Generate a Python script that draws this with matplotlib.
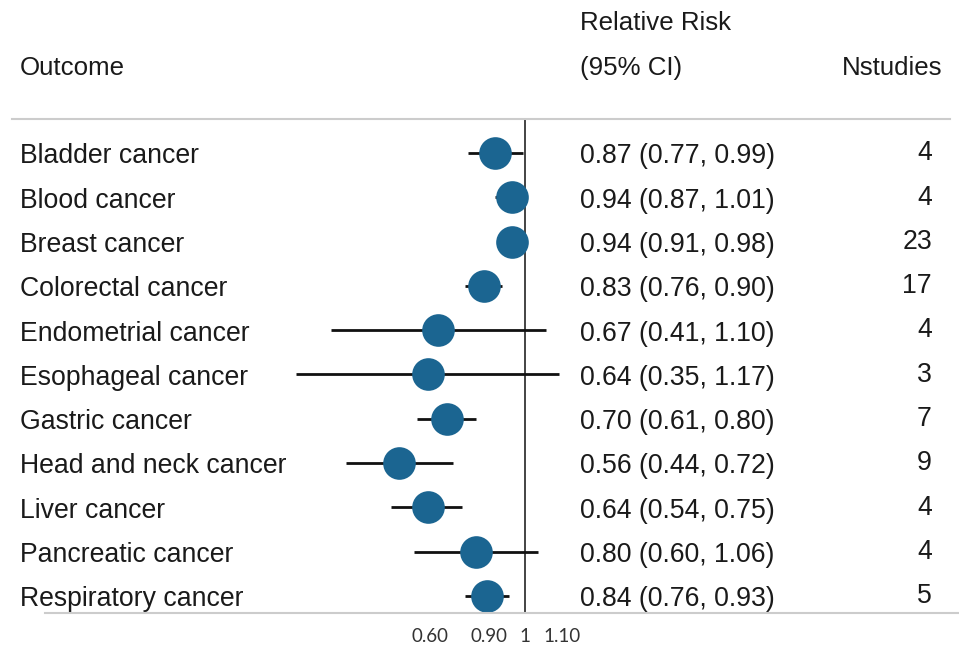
import numpy as np
import matplotlib.pyplot as plt
from matplotlib.lines import Line2D
from matplotlib.transforms import blended_transform_factory, ScaledTranslation

plt.rcParams['font.family'] = ['Liberation Sans', 'DejaVu Sans']

# forest plot data
outcomes = ["Bladder cancer", "Blood cancer", "Breast cancer", "Colorectal cancer",
            "Endometrial cancer", "Esophageal cancer", "Gastric cancer",
            "Head and neck cancer", "Liver cancer", "Pancreatic cancer",
            "Respiratory cancer"]
rr = [0.87, 0.94, 0.94, 0.83, 0.67, 0.64, 0.70, 0.56, 0.64, 0.80, 0.84]
ci_low = [0.77, 0.87, 0.91, 0.76, 0.41, 0.35, 0.61, 0.44, 0.54, 0.60, 0.76]
ci_high = [0.99, 1.01, 0.98, 0.90, 1.10, 1.17, 0.80, 0.72, 0.75, 1.06, 0.93]
n_studies = [4, 4, 23, 17, 4, 3, 7, 9, 4, 4, 5]
x_ticks = [0.60, 0.90, 1, 1.10]
x_tick_labels = ["0.60", "0.90", "1", "1.10"]

W, H = 959, 645
fig = plt.figure(figsize=(W / 100, H / 100), dpi=100)
fig.patch.set_facecolor('white')


def fx(px):
    return px / W


def fy(py):
    return 1 - py / H


# plot area: x 280..580 px, y 119..613 px
ax = fig.add_axes([fx(280), fy(613), fx(580) - fx(280), fy(119) - fy(613)])
ax.set_xscale('log')
ax.set_xlim(0.325, 1.287)
n = len(outcomes)
ax.set_ylim(n - 1 + 0.384, -0.767)
ax.patch.set_alpha(0)
for s in ax.spines.values():
    s.set_visible(False)

y = np.arange(n)
dot_color = '#1b6591'
ax.hlines(y, ci_low, ci_high, color='#111111', lw=2.0, zorder=2)
ax.plot(rr, y, 'o', color=dot_color, markersize=23.5, markeredgewidth=0, zorder=3)
ax.axvline(1, color='#111111', lw=1.1, zorder=1)

ax.set_yticks([])
ax.set_xticks(x_ticks)
ax.set_xticklabels(x_tick_labels, fontsize=13.5, color='#333333', family=['Lato', 'DejaVu Sans'])
ax.xaxis.set_minor_locator(plt.NullLocator())
ax.tick_params(axis='x', length=0, pad=10.5)
# spread the crowded tick labels apart a little
shifts = [16, -13, 0, 16]
for lab, dx in zip(ax.get_xticklabels(), shifts):
    lab.set_transform(lab.get_transform() + ScaledTranslation(dx / 100, 0, fig.dpi_scale_trans))

# table text, baseline placed so capitals sit centred on each row
tr = blended_transform_factory(fig.transFigure, ax.transData)
txt_kw = dict(fontsize=19.2, color='#1a1a1a', va='baseline')
base = 0.235
for i in range(n):
    ax.text(fx(20), i + base, outcomes[i], transform=tr, ha='left', **txt_kw)
    ax.text(fx(580), i + base, f"{rr[i]:.2f} ({ci_low[i]:.2f}, {ci_high[i]:.2f})",
            transform=tr, ha='left', **txt_kw)
    ax.text(fx(932), i + base - 0.07, str(n_studies[i]), transform=tr, ha='right', **txt_kw)

# headers
hdr_kw = dict(fontsize=18.6, color='#1a1a1a', va='baseline')
fig.text(fx(20), fy(75), "Outcome", ha='left', **hdr_kw)
fig.text(fx(580), fy(30), "Relative Risk", ha='left', **hdr_kw)
fig.text(fx(580), fy(75), "(95% CI)", ha='left', **hdr_kw)
fig.text(fx(942), fy(75), "Nstudies", ha='right', **hdr_kw)

# separator lines
fig.add_artist(Line2D([fx(12), fx(950)], [fy(119), fy(119)], color='#cccccc', lw=1.5))
fig.add_artist(Line2D([fx(45), fx(959)], [fy(613), fy(613)], color='#cccccc', lw=1.5))

fig.savefig('out.png', dpi=100)
